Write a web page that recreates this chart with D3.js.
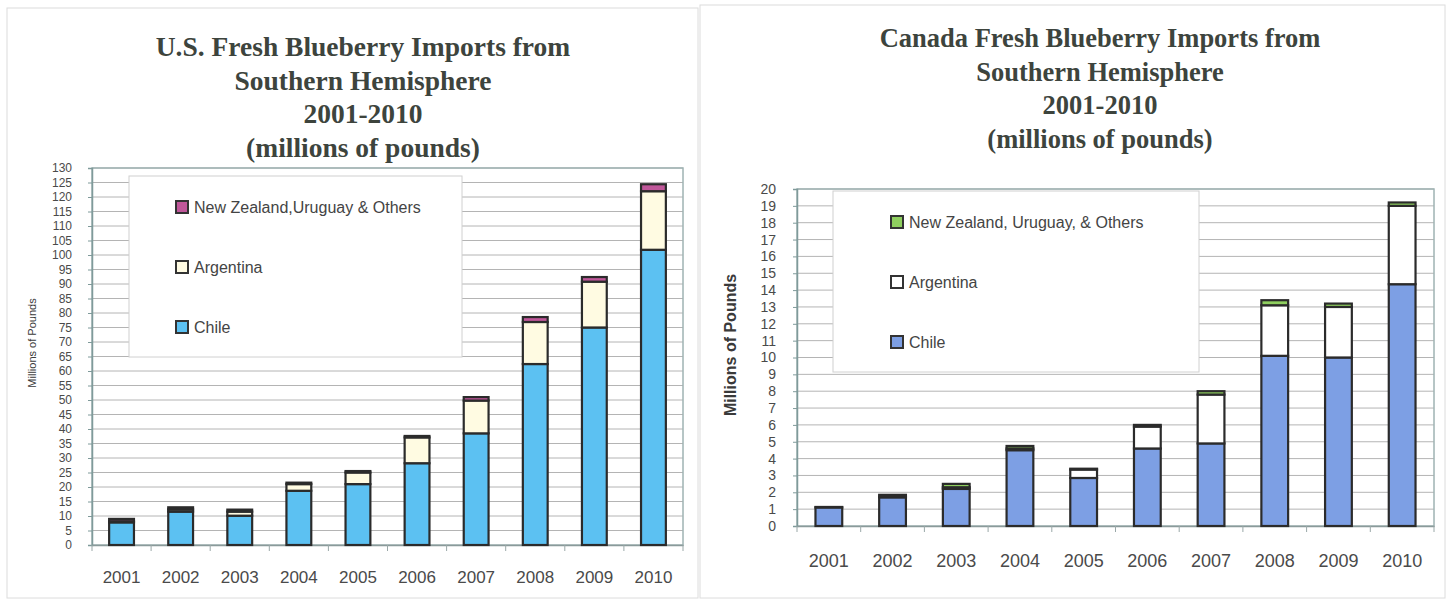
<!DOCTYPE html>
<html>
<head>
<meta charset="utf-8">
<script src="https://cdn.jsdelivr.net/npm/d3@7/dist/d3.min.js"></script>
<style>
  html, body { margin: 0; padding: 0; background: #ffffff; }
  svg { display: block; }
</style>
</head>
<body>
<svg id="chart" width="1453" height="601"></svg>
<script>
// ---------- DATA ----------
const years = ["2001","2002","2003","2004","2005","2006","2007","2008","2009","2010"];
const seriesNames = ["Chile", "Argentina", "Others"];

// U.S. imports (millions of pounds)
const usChile     = [7.8, 11.5, 10.1, 18.7, 21.0, 28.2, 38.5, 62.4, 75.0, 101.8];
const usArgentina = [0.4, 0.8, 1.4, 2.3, 4.0, 8.9, 11.3, 14.5, 15.8, 20.2];
const usOthers    = [0.8, 0.7, 0.7, 0.5, 0.5, 0.5, 1.2, 1.7, 1.6, 2.4];
const usTicks     = d3.range(0, 131, 5);
const usLegend    = ["New Zealand,Uruguay & Others", "Argentina", "Chile"];
const usTitle     = ["U.S. Fresh Blueberry Imports from", "Southern Hemisphere", "2001-2010", "(millions of pounds)"];

// Canada imports (millions of pounds)
const caChile     = [1.1, 1.7, 2.2, 4.5, 2.85, 4.6, 4.9, 10.1, 10.0, 14.35];
const caArgentina = [0.0, 0.05, 0.1, 0.1, 0.5, 1.3, 2.9, 3.0, 3.0, 4.65];
const caOthers    = [0.03, 0.1, 0.2, 0.15, 0.05, 0.1, 0.2, 0.3, 0.2, 0.2];
const caTicks     = d3.range(0, 21, 1);
const caLegend    = ["New Zealand, Uruguay, & Others", "Argentina", "Chile"];
const caTitle     = ["Canada Fresh Blueberry Imports from", "Southern Hemisphere", "2001-2010", "(millions of pounds)"];

const yLabel = "Millions of Pounds";

// ---------- DRAW ----------
const svg = d3.select("#chart");

// panel frames
svg.append("rect").attr("x", 7).attr("y", 8).attr("width", 691).attr("height", 590)
  .attr("fill", "none").attr("stroke", "#dcdcdc").attr("stroke-width", 1);
svg.append("rect").attr("x", 700).attr("y", 5).attr("width", 745).attr("height", 593)
  .attr("fill", "none").attr("stroke", "#dcdcdc").attr("stroke-width", 1);

function drawChart(cfg) {
  const g = svg.append("g");
  const rows = years.map((yr, i) => ({
    year: yr, Chile: cfg.chile[i], Argentina: cfg.argentina[i], Others: cfg.others[i]
  }));
  const stack = d3.stack().keys(seriesNames)(rows);

  const x = d3.scaleBand().domain(years).range([cfg.x0, cfg.x1])
    .paddingInner(0.58).paddingOuter(0.29);
  const y = d3.scaleLinear().domain([0, cfg.max]).range([cfg.yB, cfg.yT]);

  // gridlines
  g.append("g").selectAll("line").data(cfg.ticks.filter(t => t > 0)).join("line")
    .attr("x1", cfg.x0).attr("x2", cfg.x1)
    .attr("y1", d => y(d)).attr("y2", d => y(d))
    .attr("stroke", "#b4b4b4").attr("stroke-width", 1);

  // plot border
  g.append("rect").attr("x", cfg.x0).attr("y", cfg.yT)
    .attr("width", cfg.x1 - cfg.x0).attr("height", cfg.yB - cfg.yT)
    .attr("fill", "none").attr("stroke", "#9fb3b3").attr("stroke-width", 1.5);

  // y axis
  const yAxis = d3.axisLeft(y).tickValues(cfg.ticks).tickSize(4).tickPadding(cfg.tickPad).tickFormat(d3.format("d"));
  const ya = g.append("g").attr("transform", `translate(${cfg.x0},0)`).call(yAxis);
  ya.select(".domain").attr("stroke", "#7f9a9a").attr("stroke-width", 1.5);
  ya.selectAll(".tick line").attr("stroke", "#7f9a9a");
  ya.selectAll("text").attr("font-family", "Liberation Sans, Arial, sans-serif")
    .attr("font-size", cfg.tickFont).attr("fill", "#4a4a4a");

  // x axis
  const xa = g.append("g").attr("transform", `translate(0,${cfg.yB})`)
    .call(d3.axisBottom(x).tickSize(0).tickPadding(cfg.xPad));
  xa.select(".domain").attr("stroke", "#8a9a9a").attr("stroke-width", 1.5);
  xa.selectAll("text").attr("font-family", "Liberation Sans, Arial, sans-serif")
    .attr("font-size", cfg.xFont).attr("fill", "#4a4a4a");
  // category boundary ticks
  const step = x.step();
  const bounds = d3.range(0, years.length + 1).map(i => cfg.x0 + i * step);
  g.append("g").selectAll("line").data(bounds).join("line")
    .attr("x1", d => d).attr("x2", d => d)
    .attr("y1", cfg.yB).attr("y2", cfg.yB + 6)
    .attr("stroke", "#9aa8a8").attr("stroke-width", 1);

  // legend box
  g.append("rect").attr("x", cfg.leg.x).attr("y", cfg.leg.y)
    .attr("width", cfg.leg.w).attr("height", cfg.leg.h)
    .attr("fill", "#ffffff").attr("stroke", "#d0d0d0").attr("stroke-width", 1);
  const legColors = [cfg.colors.Others, cfg.colors.Argentina, cfg.colors.Chile];
  cfg.legend.forEach((lab, i) => {
    const cy = cfg.leg.itemY[i];
    g.append("rect").attr("x", cfg.leg.sx).attr("y", cy - 6)
      .attr("width", 12).attr("height", 12)
      .attr("fill", legColors[i]).attr("stroke", "#333").attr("stroke-width", 2);
    g.append("text").attr("x", cfg.leg.sx + 18).attr("y", cy)
      .attr("dy", "0.35em")
      .attr("font-family", "Liberation Sans, Arial, sans-serif")
      .attr("font-size", 16).attr("fill", "#444")
      .text(lab);
  });

  // bars
  g.append("g").selectAll("g").data(stack).join("g")
    .attr("fill", d => cfg.colors[d.key])
    .selectAll("rect").data(d => d).join("rect")
    .attr("x", d => x(d.data.year))
    .attr("width", x.bandwidth())
    .attr("y", d => y(d[1]))
    .attr("height", d => Math.max(0, y(d[0]) - y(d[1])))
    .attr("stroke", "#2b2b2b").attr("stroke-width", 2.2);

  // title
  const t = g.append("text").attr("text-anchor", "middle")
    .attr("font-family", "Liberation Serif, 'Times New Roman', serif")
    .attr("font-weight", "bold").attr("font-size", cfg.titleFont).attr("fill", "#3d443d");
  cfg.title.forEach((line, i) => {
    t.append("tspan").attr("x", cfg.titleX).attr("y", cfg.titleY + i * 33.7).text(line);
  });

  // y label
  g.append("text")
    .attr("transform", `translate(${cfg.yl.x},${cfg.yl.y}) rotate(-90)`)
    .attr("text-anchor", "middle")
    .attr("font-family", "Liberation Sans, Arial, sans-serif")
    .attr("font-size", cfg.yl.size).attr("font-weight", cfg.yl.weight).attr("fill", "#3a3a3a")
    .text(yLabel);
}

drawChart({
  chile: usChile, argentina: usArgentina, others: usOthers,
  ticks: usTicks, max: 130,
  x0: 92, x1: 683, yT: 168, yB: 545,
  tickFont: 12, tickPad: 16, xFont: 17, xPad: 26,
  colors: { Chile: "#5cc1f2", Argentina: "#fffbe2", Others: "#c0579a" },
  legend: usLegend,
  leg: { x: 129, y: 176, w: 333, h: 181, sx: 176, itemY: [207, 267, 327] },
  title: usTitle, titleX: 363, titleY: 56, titleFont: 27.5,
  yl: { x: 36, y: 343, size: 11, weight: "normal" }
});

drawChart({
  chile: caChile, argentina: caArgentina, others: caOthers,
  ticks: caTicks, max: 20,
  x0: 797, x1: 1434, yT: 189, yB: 526,
  tickFont: 14, tickPad: 17, xFont: 18, xPad: 28,
  colors: { Chile: "#7d9fe4", Argentina: "#ffffff", Others: "#8fcf5f" },
  legend: caLegend,
  leg: { x: 833, y: 191, w: 366, h: 181, sx: 891, itemY: [222, 282, 342] },
  title: caTitle, titleX: 1100, titleY: 47, titleFont: 26.5,
  yl: { x: 736, y: 345, size: 16, weight: "bold" }
});
</script>
</body>
</html>
